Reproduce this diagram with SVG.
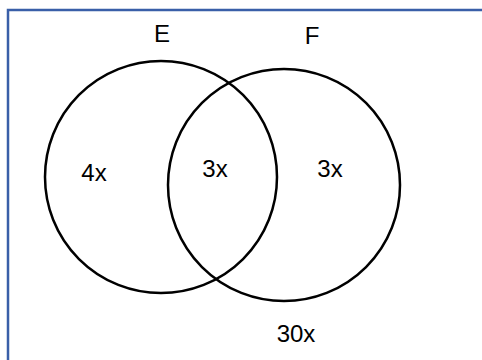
<svg xmlns="http://www.w3.org/2000/svg" width="482" height="360" viewBox="0 0 482 360">
<style>
.set{fill:none;stroke:#000;stroke-width:2.5}
.lbl{font-family:"Liberation Sans",Arial,sans-serif;font-size:24px;fill:#000;text-anchor:middle}
</style>
<rect width="482" height="360" fill="#fff"/>
<path d="M8 362 V10 H484" fill="none" stroke="#3a5fa8" stroke-width="2.5"/>
<g id="E">
<circle class="set" cx="161" cy="177" r="116"/>
<text class="lbl" x="162" y="42">E</text>
</g>
<g id="F">
<circle class="set" cx="284" cy="185" r="116"/>
<text class="lbl" x="312" y="44">F</text>
</g>
<g id="onlyE"><text class="lbl" x="94" y="181">4x</text></g>
<g id="both"><text class="lbl" x="215" y="177">3x</text></g>
<g id="onlyF"><text class="lbl" x="330" y="177">3x</text></g>
<g id="outside"><text class="lbl" x="296" y="342">30x</text></g>
<g id="connectors"></g>
</svg>
